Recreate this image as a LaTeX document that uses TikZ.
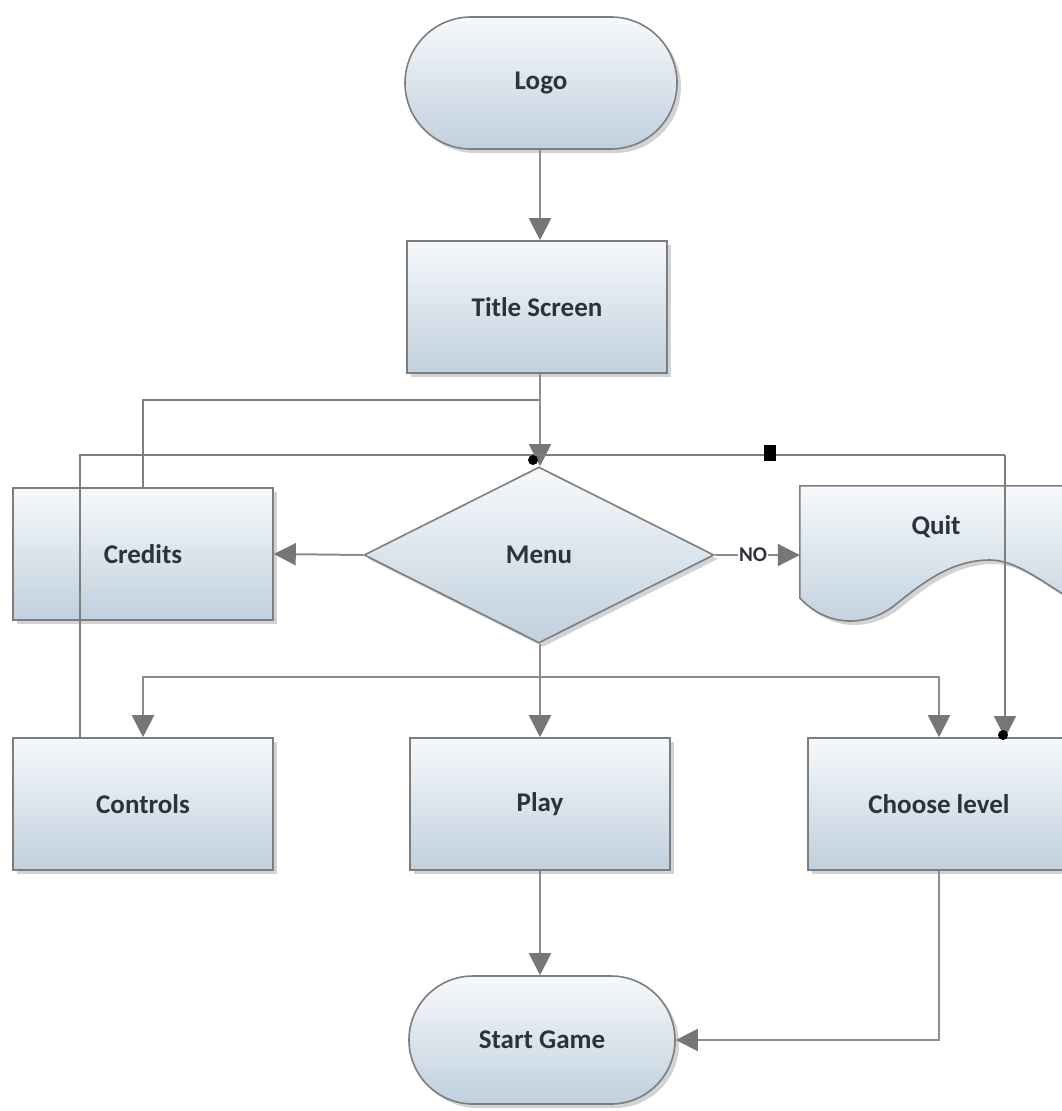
\documentclass[tikz,border=0pt]{standalone}
\usepackage{fontspec}
\setmainfont{Carlito}
\usetikzlibrary{shapes.geometric,shapes.misc,shadows,arrows.meta,calc}
\definecolor{linegray}{RGB}{140,140,140}
\definecolor{tipgray}{RGB}{118,118,118}
\definecolor{bordergray}{RGB}{125,125,125}
\definecolor{filltop}{RGB}{246,249,252}
\definecolor{fillbot}{RGB}{192,208,221}
\definecolor{txt}{RGB}{45,50,58}
\tikzset{
  boxbase/.style={draw=bordergray, line width=1.6pt, top color=filltop, bottom color=fillbot,
    drop shadow={opacity=0.35, shadow xshift=4pt, shadow yshift=-4pt},
    text=txt, font=\fontsize{27}{32}\selectfont\bfseries, inner sep=0pt},
  procbox/.style={boxbase, rectangle, minimum width=260pt, minimum height=132pt},
  termbox/.style={boxbase, rounded rectangle, minimum width=272pt, minimum height=132pt},
  decbox/.style={boxbase, diamond, aspect=2, minimum width=350pt, minimum height=176pt},
  conn/.style={draw=linegray, line width=2pt},
  thinconn/.style={draw=linegray!90!black, line width=1.5pt},
  arr/.style={conn, -{Triangle[length=22pt,width=22pt,fill=tipgray,color=tipgray]}},
  thinarr/.style={thinconn, -{Triangle[length=22pt,width=22pt,fill=tipgray,color=tipgray]}},
}
\begin{document}
\begin{tikzpicture}[x=1pt,y=-1pt]
\useasboundingbox (0,0) rectangle (1062,1111);
% nodes
\node[termbox] (logo) at (541,83) {Logo};
\node[procbox] (title) at (537,307) {Title Screen};
\node[decbox] (menu) at (539,555) {Menu};
\node[procbox] (credits) at (143,554) {Credits};
\node[procbox] (controls) at (143,804) {Controls};
\node[procbox] (play) at (540,804) {Play};
\node[procbox, minimum width=262pt] (choose) at (939,804) {Choose level};
\node[termbox, minimum width=266pt, minimum height=128pt] (start) at (542,1040) {Start Game};
% Quit document shape
\node[rectangle, draw=none, minimum width=272pt, minimum height=138pt, inner sep=0pt] (quit) at (936,555) {};
\path[boxbase]
  (quit.west |- 0,598) -- (quit.north west) -- (quit.north east) -- (quit.east |- 0,600)
  .. controls (1040,580) and (1015,560) .. (990,560)
  .. controls (950,560) and (920,585) .. (895,605)
  .. controls (870,625) and (830,630) .. (quit.west |- 0,598) -- cycle;
\node[text=txt, font=\fontsize{27}{32}\selectfont\bfseries] (quitlabel) at (936,527) {Quit};
% coordinates for junctions
\coordinate (j1) at (540,400);
\coordinate (c1) at (80,738);
\coordinate (j2) at (1005,455);
\coordinate (ch2) at (1005,738);
\coordinate (br) at (540,677);
% connectors
\draw[arr] (logo.south -| br) -- (title.north -| br);
\draw[thinconn] (credits.north) |- (j1);
\draw[arr] (title.south -| br) -- (menu.north -| br);
\draw[thinconn] (c1) |- (j2);
\draw[thinarr] (j2) -- (ch2);
\draw[arr] (menu.west) -- (credits.east);
\draw[arr] (menu.east) -- node[fill=white, inner sep=1pt, text=txt, font=\fontsize{21}{25}\selectfont\bfseries, pos=0.45] (nolabel) {NO} (quit.west);
\draw[conn] (menu.south -| br) -- (br);
\draw[arr] (br) -| (controls.north);
\draw[arr] (br) -- (play.north);
\draw[arr] (br) -| (choose.north);
\draw[arr] (play.south) -- (play.south |- start.north);
\draw[arr] (choose.south) |- (start.east);
% editor handles
\fill[black] (533,460) circle (5pt);
\fill[black] (764,445) rectangle (776,461);
\fill[black] (1003,735) circle (5pt);
\end{tikzpicture}
\end{document}
